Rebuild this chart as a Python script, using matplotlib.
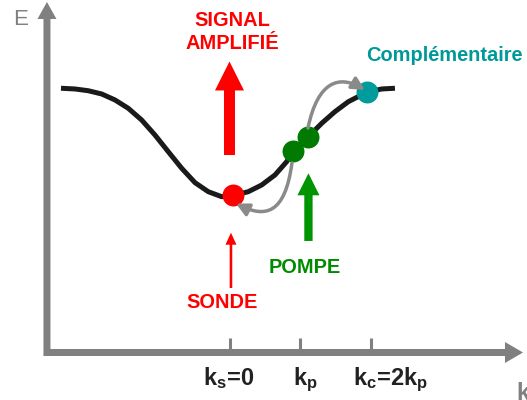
import matplotlib
matplotlib.use("Agg")
import matplotlib.pyplot as plt
from matplotlib.patches import FancyArrowPatch, FancyArrow
from matplotlib.path import Path

plt.rcParams['font.family'] = ['Liberation Sans', 'DejaVu Sans']
plt.rcParams['mathtext.fontset'] = 'custom'
plt.rcParams['mathtext.rm'] = 'Liberation Sans:bold'
plt.rcParams['mathtext.it'] = 'Liberation Sans:bold'
plt.rcParams['mathtext.bf'] = 'Liberation Sans:bold'

# ---- data (k in units of k_p, E arbitrary units) ----
curve_k = [-2.397, -2.199, -2.010, -1.820, -1.631, -1.443, -1.253, -1.064, -0.875, -0.685,
           -0.496, -0.308, -0.118, 0.047, 0.260, 0.450, 0.638, 0.804, 0.898, 1.111,
           1.301, 1.489, 1.678, 1.939, 2.152, 2.340]
curve_E = [3.748, 3.738, 3.713, 3.667, 3.582, 3.464, 3.298, 3.085, 2.848, 2.613,
           2.409, 2.281, 2.210, 2.227, 2.281, 2.376, 2.518, 2.706, 2.862, 3.061,
           3.251, 3.416, 3.557, 3.691, 3.738, 3.748]

tick_k = [0, 1, 2]
tick_labels = [r"k$_\mathrm{s}$=0", r"k$_\mathrm{p}$", r"k$_\mathrm{c}$=2k$_\mathrm{p}$"]
tick_label_k = [-0.021, 1.064, 2.27]

dot_k = [0.04, 0.898, 1.111, 1.939]
dot_E = [2.234, 2.862, 3.061, 3.699]
dot_colors = ['#ff0000', '#007a00', '#007a00', '#009c9c']

# gray scattering arrows (cubic Bezier control points)
arrow1_k = [0.879, 0.780, 0.496, 0.085]
arrow1_E = [2.688, 1.950, 1.908, 2.113]
arrow2_k = [1.106, 1.248, 1.560, 1.915]
arrow2_E = [3.184, 3.865, 3.936, 3.723]

PX = 1 / 70.5  # one pixel in data units

fig = plt.figure(figsize=(5.27, 4.0), dpi=100)
ax = fig.add_axes([0, 0, 1, 1])
ax.set_xlim(-3.262, 4.213)
ax.set_ylim(-0.674, 5.0)
ax.axis('off')

gray = '#808080'
# axes arrows
ax.add_patch(FancyArrow(-2.596, -0.05, 0, 5.022, width=7 * PX, head_width=19 * PX,
                        head_length=17 * PX, length_includes_head=True,
                        color=gray, lw=0, zorder=2))
ax.add_patch(FancyArrow(-2.638, 0, 6.794, 0, width=7 * PX, head_width=21 * PX,
                        head_length=18 * PX, length_includes_head=True,
                        color=gray, lw=0, zorder=2))
for tk in tick_k:
    ax.plot([tk, tk], [0, 0.206], color=gray, lw=2.2, solid_capstyle='butt', zorder=2)
for lk, lab in zip(tick_label_k, tick_labels):
    ax.text(lk, -0.461, lab, ha='center', va='baseline', fontsize=17,
            fontweight='bold', color='#222222')

ax.text(-3.078, 4.645, "E", fontsize=16, color=gray, va='baseline', ha='left')
ax.text(4.057, -0.67, "k", fontsize=17, color=gray, fontweight='bold',
        va='baseline', ha='left')

# dispersion curve
ax.plot(curve_k, curve_E, color='#1a1a1a', lw=3.6, solid_joinstyle='round',
        solid_capstyle='butt', zorder=3)

# dots
for k, e, c in zip(dot_k, dot_E, dot_colors):
    ax.plot(k, e, 'o', ms=15.8, color=c, mec='none', zorder=4)

# gray curved arrows
codes = [Path.MOVETO, Path.CURVE4, Path.CURVE4, Path.CURVE4]
for ks, es in [(arrow1_k, arrow1_E), (arrow2_k, arrow2_E)]:
    p = Path(list(zip(ks, es)), codes)
    ax.add_patch(FancyArrowPatch(path=p, arrowstyle='-|>,head_length=0.75,head_width=0.38',
                                 mutation_scale=10, lw=2.5, color='#8a8a8a', zorder=5))

# big red arrow (signal amplified)
ax.add_patch(FancyArrow(-0.007, 2.801, 0, 1.327, width=11 * PX, head_width=29 * PX,
                        head_length=29 * PX, length_includes_head=True,
                        color='#ff0000', lw=0, zorder=3))
# thin red arrow (probe)
ax.add_patch(FancyArrow(0.014, 0.915, 0, 0.784, width=2.6 * PX, head_width=11 * PX,
                        head_length=12 * PX, length_includes_head=True,
                        color='#ff0000', lw=0, zorder=3))
# green arrow (pump)
ax.add_patch(FancyArrow(1.113, 1.582, 0, 0.960, width=8.3 * PX, head_width=22 * PX,
                        head_length=22 * PX, length_includes_head=True,
                        color='#009400', lw=0, zorder=3))

fs = 14.4
ax.text(0.035, 4.631, "SIGNAL", ha='center', va='baseline', fontsize=fs,
        fontweight='bold', color='#ff0000')
ax.text(0.035, 4.305, "AMPLIFIÉ", ha='center', va='baseline', fontsize=fs,
        fontweight='bold', color='#ff0000')
ax.text(1.929, 4.139, "Complémentaire", ha='left', va='baseline', fontsize=fs,
        fontweight='bold', color='#009999')
ax.text(1.064, 1.123, "POMPE", ha='center', va='baseline', fontsize=fs,
        fontweight='bold', color='#008c00')
ax.text(-0.113, 0.627, "SONDE", ha='center', va='baseline', fontsize=fs,
        fontweight='bold', color='#ff0000')

fig.savefig("out.png", dpi=100)
